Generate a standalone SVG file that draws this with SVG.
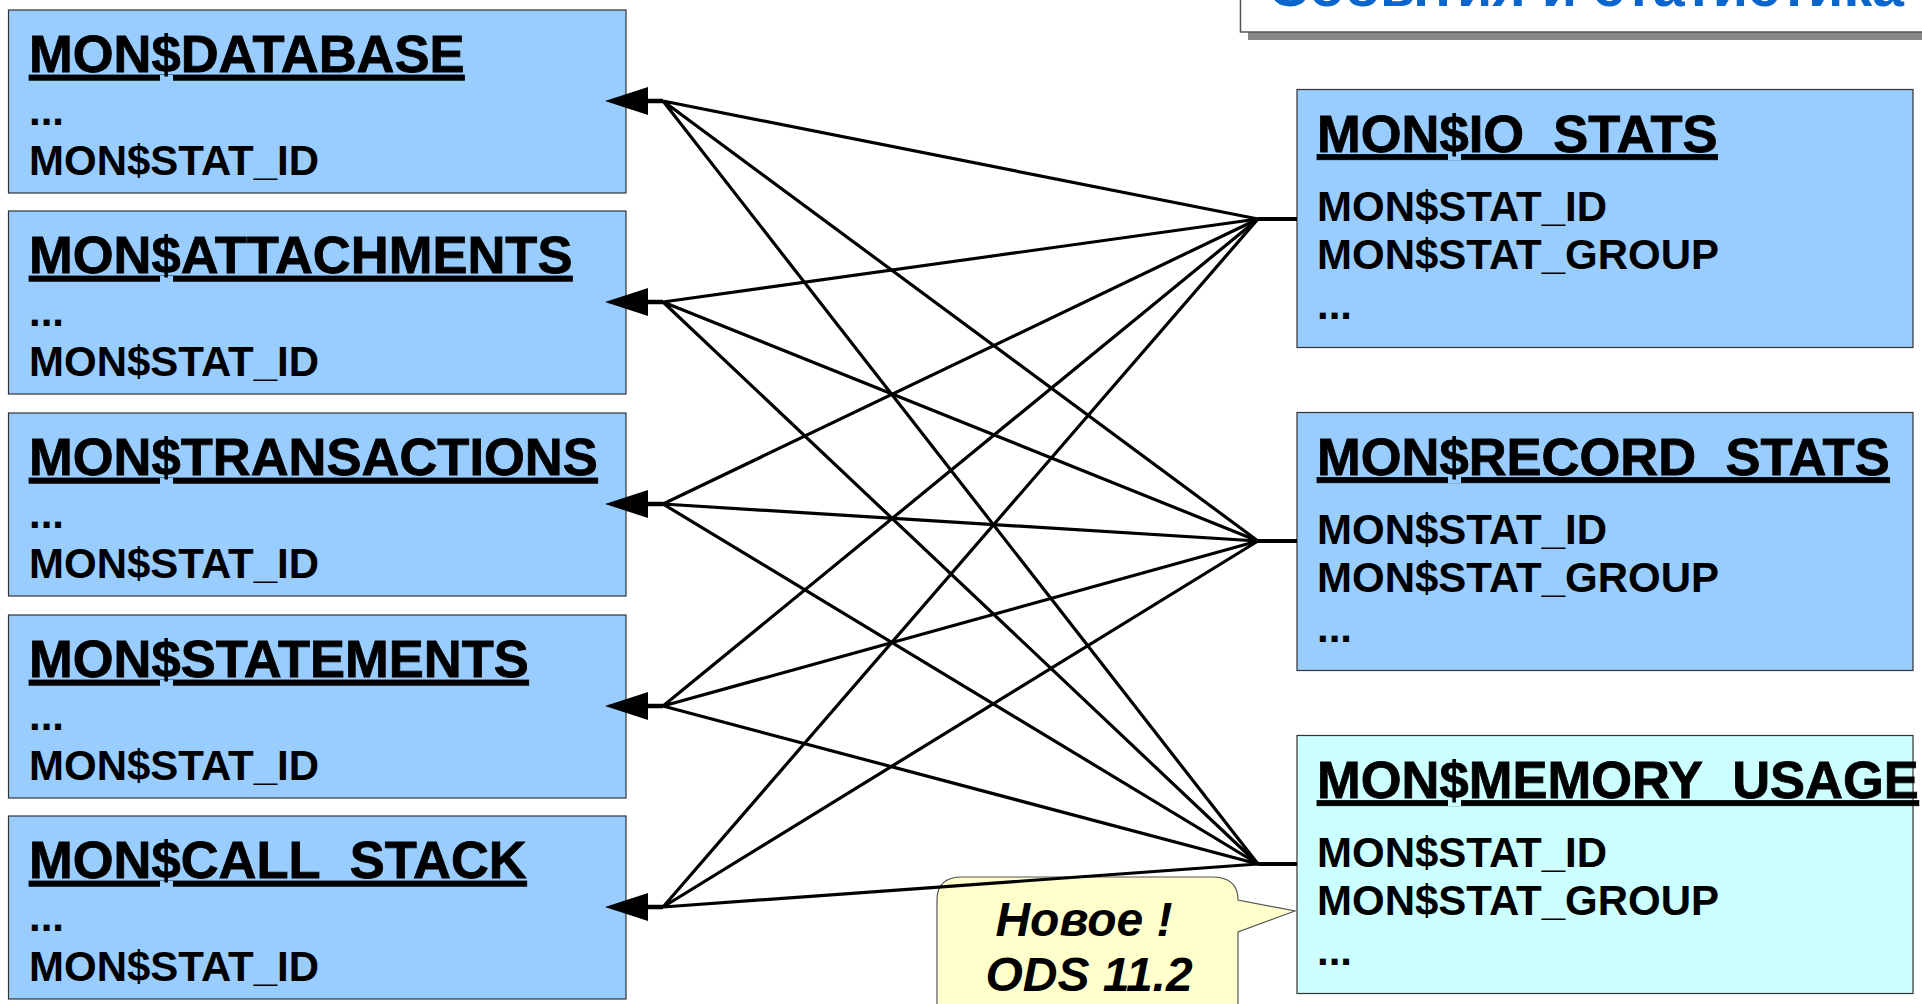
<svg xmlns="http://www.w3.org/2000/svg" width="1922" height="1004" viewBox="0 0 1922 1004">
<defs>
<style>
.bl{fill:#99ccff;stroke:#333;stroke-width:1.2}
.cy{fill:#ccffff;stroke:#333;stroke-width:1.2}
.tt{font-family:"Liberation Sans",Arial,sans-serif;font-weight:bold;font-size:52.5px;fill:#000;stroke:#000;stroke-width:0.8;text-decoration:underline}
.fd{font-family:"Liberation Sans",Arial,sans-serif;font-weight:bold;font-size:42px;fill:#000}
.fan{stroke:#000;stroke-width:3.2;fill:none}
.stub{stroke:#000;stroke-width:4;fill:none}
.ar{stroke:#000;stroke-width:4.5;fill:none;marker-end:url(#arr)}
.co{font-family:"Liberation Sans",Arial,sans-serif;font-weight:bold;font-style:italic;font-size:48px;fill:#000;text-anchor:middle}
</style>
<marker id="arr" markerUnits="userSpaceOnUse" markerWidth="44" markerHeight="30" viewBox="0 -15 44 30" refX="8" refY="0" orient="auto">
<path d="M0,-14 L43,0 L0,14 z" fill="#000"/>
</marker>
</defs>
<rect width="1922" height="1004" fill="#fff"/>

<g id="title-box">
<rect x="1248" y="32" width="700" height="8" fill="#888"/>
<rect x="1240.5" y="-10" width="700" height="42" fill="#fff" stroke="#555" stroke-width="1.5"/>
<text x="1268" y="5.5" font-family="Liberation Sans,Arial,sans-serif" font-weight="bold" font-size="56" fill="#0a66cc" textLength="636" lengthAdjust="spacingAndGlyphs">События и статистика</text>
</g>

<g id="mon-database">
<rect class="bl" x="8.5" y="10" width="617.5" height="183"/>
<text class="tt" x="29" y="72">MON$DATABASE</text>
<text class="fd" x="29" y="125">...</text>
<text class="fd" x="29" y="175">MON$STAT_ID</text>
</g>
<g id="mon-attachments">
<rect class="bl" x="8.5" y="211" width="617.5" height="183"/>
<text class="tt" x="29" y="273">MON$ATTACHMENTS</text>
<text class="fd" x="29" y="326">...</text>
<text class="fd" x="29" y="376">MON$STAT_ID</text>
</g>
<g id="mon-transactions">
<rect class="bl" x="8.5" y="413" width="617.5" height="183"/>
<text class="tt" x="29" y="475">MON$TRANSACTIONS</text>
<text class="fd" x="29" y="528">...</text>
<text class="fd" x="29" y="578">MON$STAT_ID</text>
</g>
<g id="mon-statements">
<rect class="bl" x="8.5" y="615" width="617.5" height="183"/>
<text class="tt" x="29" y="677">MON$STATEMENTS</text>
<text class="fd" x="29" y="730">...</text>
<text class="fd" x="29" y="780">MON$STAT_ID</text>
</g>
<g id="mon-call-stack">
<rect class="bl" x="8.5" y="816" width="617.5" height="183"/>
<text class="tt" x="29" y="878">MON$CALL_STACK</text>
<text class="fd" x="29" y="931">...</text>
<text class="fd" x="29" y="981">MON$STAT_ID</text>
</g>

<g id="mon-io-stats">
<rect class="bl" x="1297" y="89.5" width="616" height="258"/>
<text class="tt" x="1317" y="151.5">MON$IO_STATS</text>
<text class="fd" x="1317" y="220.5">MON$STAT_ID</text>
<text class="fd" x="1317" y="269">MON$STAT_GROUP</text>
<text class="fd" x="1317" y="318.5">...</text>
</g>
<g id="mon-record-stats">
<rect class="bl" x="1297" y="412.5" width="616" height="258"/>
<text class="tt" x="1317" y="474.5">MON$RECORD_STATS</text>
<text class="fd" x="1317" y="543.5">MON$STAT_ID</text>
<text class="fd" x="1317" y="592">MON$STAT_GROUP</text>
<text class="fd" x="1317" y="641.5">...</text>
</g>
<g id="mon-memory-usage">
<rect class="cy" x="1297" y="735.5" width="616" height="258"/>
<text class="tt" x="1317" y="797.5">MON$MEMORY_USAGE</text>
<text class="fd" x="1317" y="866.5">MON$STAT_ID</text>
<text class="fd" x="1317" y="915">MON$STAT_GROUP</text>
<text class="fd" x="1317" y="964.5">...</text>
</g>

<g id="callout">
<path d="M937,1010 L937,900 Q937,877 962,877 L1212,877 Q1238,877 1238,900 L1295,911 L1238,932 L1238,1010 Z" fill="#ffffcc" stroke="#555" stroke-width="1.2"/>
<text class="co" x="1084" y="936">Новое !</text>
<text class="co" x="1089" y="991">ODS 11.2</text>
</g>

<g id="connectors">
<path class="ar" d="M663,101 H640"/>
<path class="ar" d="M663,302 H640"/>
<path class="ar" d="M663,504 H640"/>
<path class="ar" d="M663,706 H640"/>
<path class="ar" d="M663,907 H640"/>
<path class="stub" d="M1258,219 H1297 M1258,541 H1297 M1258,864 H1297"/>
<path class="fan" d="M663,101 L1258,219 M663,101 L1258,541 M663,101 L1258,864"/>
<path class="fan" d="M663,302 L1258,219 M663,302 L1258,541 M663,302 L1258,864"/>
<path class="fan" d="M663,504 L1258,219 M663,504 L1258,541 M663,504 L1258,864"/>
<path class="fan" d="M663,706 L1258,219 M663,706 L1258,541 M663,706 L1258,864"/>
<path class="fan" d="M663,907 L1258,219 M663,907 L1258,541 M663,907 L1258,864"/>
</g>
</svg>
